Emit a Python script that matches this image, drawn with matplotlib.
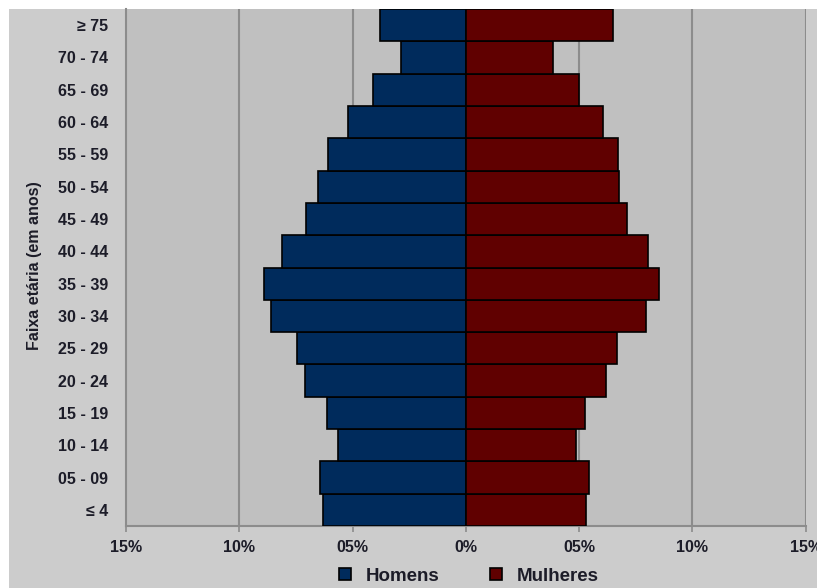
import matplotlib
matplotlib.use("Agg")
import matplotlib.pyplot as plt
from matplotlib.patches import Rectangle
from matplotlib.lines import Line2D
import numpy as np

plt.rcParams['font.family'] = ['Liberation Sans', 'DejaVu Sans']

# Faixas etárias (de baixo para cima)
faixas = ["≤ 4", "05 - 09", "10 - 14", "15 - 19", "20 - 24", "25 - 29", "30 - 34",
          "35 - 39", "40 - 44", "45 - 49", "50 - 54", "55 - 59", "60 - 64",
          "65 - 69", "70 - 74", "≥ 75"]

# Percentual da população por sexo
homens = [6.30, 6.42, 5.64, 6.15, 7.11, 7.46, 8.61, 8.92, 8.11, 7.04, 6.54, 6.10,
          5.21, 4.08, 2.88, 3.77]
mulheres = [5.32, 5.43, 4.87, 5.26, 6.18, 6.69, 7.94, 8.52, 8.02, 7.13, 6.76, 6.70,
            6.07, 4.99, 3.86, 6.51]

xticks = [-15, -10, -5, 0, 5, 10, 15]
xticklabels = ["15%", "10%", "05%", "0%", "05%", "10%", "15%"]

cor_homens = "#002B5C"
cor_mulheres = "#600000"
texto = "#1c1c28"

W, H = 817, 588
fig = plt.figure(figsize=(W / 100, H / 100), dpi=100, facecolor="white")

# fundo cinza claro da área do gráfico
fig.patches.append(Rectangle((9 / W, 0), 1 - 9 / W, 1 - 9 / H, transform=fig.transFigure,
                             facecolor="#cccccc", edgecolor="none", zorder=-5))

ax = fig.add_axes([126 / W, 1 - 526 / H, (805.7 - 126) / W, (526 - 9) / H])
ax.set_facecolor("#c0c0c0")

y = np.arange(len(faixas))
ax.barh(y, -np.array(homens), height=1.0, color=cor_homens, edgecolor="black",
        linewidth=1.2, zorder=3, label="Homens")
ax.barh(y, mulheres, height=1.0, color=cor_mulheres, edgecolor="black",
        linewidth=1.2, zorder=3, label="Mulheres")

ax.set_xlim(-15, 15)
ax.set_ylim(-0.5, len(faixas) - 0.5)

ax.set_xticks(xticks)
ax.set_xticklabels(xticklabels, fontsize=11.5, fontweight="bold", color=texto)
ax.set_yticks(y)
ax.set_yticklabels(faixas, fontsize=11.5, fontweight="bold", color=texto)

ax.tick_params(axis="x", length=4, width=1.2, color="#8c8c8c", pad=6)
ax.tick_params(axis="y", length=0, pad=13)

for gx in xticks[1:]:
    ax.axvline(gx, color="#8c8c8c", linewidth=1.5, zorder=1)

for s in ["top", "right"]:
    ax.spines[s].set_visible(False)
for s in ["left", "bottom"]:
    ax.spines[s].set_color("#8c8c8c")
    ax.spines[s].set_linewidth(1.5)
    ax.spines[s].set_zorder(2)

fig.text(35 / W, 1 - 266 / H, "Faixa etária (em anos)", rotation=90, ha="center",
         va="center", fontsize=11.5, fontweight="bold", color=texto)

handles = [Line2D([], [], marker="s", linestyle="none", markersize=8,
                  markerfacecolor=cor_homens, markeredgecolor="black", markeredgewidth=1.2),
           Line2D([], [], marker="s", linestyle="none", markersize=8,
                  markerfacecolor=cor_mulheres, markeredgecolor="black", markeredgewidth=1.2)]
leg = fig.legend(handles, ["Homens", "Mulheres"], loc="center",
                 bbox_to_anchor=(467 / W, 1 - 576 / H), ncol=2, frameon=False,
                 prop={"size": 13.5, "weight": "bold"}, handletextpad=0.6,
                 columnspacing=2.5, handlelength=1.0)
for t in leg.get_texts():
    t.set_color(texto)

fig.savefig("out.png", dpi=100, facecolor="white")
